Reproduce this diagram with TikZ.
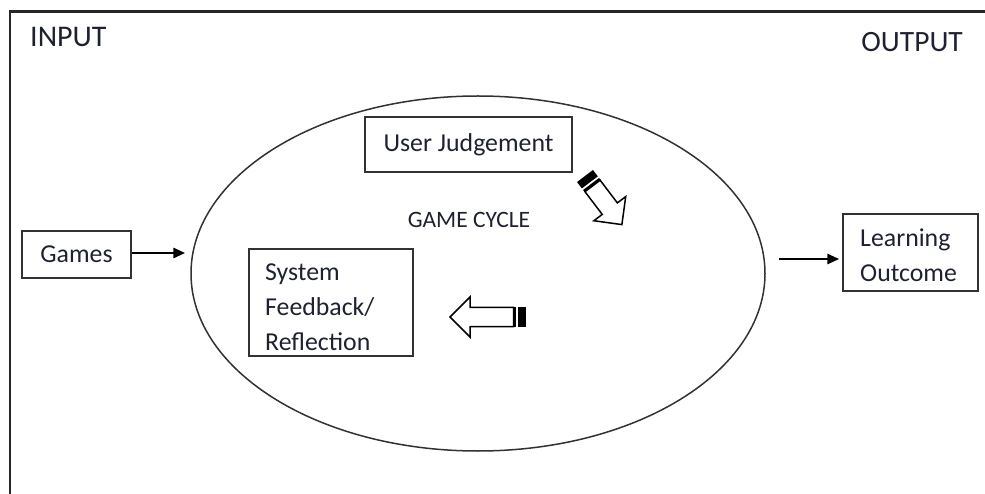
\documentclass[tikz,border=0pt]{standalone}
\usepackage{fontspec}
\setmainfont{Carlito}
\usetikzlibrary{shapes.geometric,arrows.meta,calc}
\definecolor{ink}{RGB}{30,34,48}
\definecolor{edge}{RGB}{50,50,50}
\newcommand\boxfont{\fontsize{25.8}{35}\selectfont}
% striped block arrow: tail point (#1,#2), direction #3, total length #4
\newcommand\stripedarrow[4]{%
  \begin{scope}[shift={(#1,#2)},rotate=#3]
    \fill[black] (0,-10) rectangle (8,10);
    \fill[black] (10,-10) rectangle (12.5,10);
    \draw[line width=1.5pt,line join=miter,fill=white]
      (12.5,-9.5) -- ({#4-20},-9.5) -- ({#4-20},-20) -- (#4,0)
      -- ({#4-20},20) -- ({#4-20},9.5) -- (12.5,9.5) -- cycle;
  \end{scope}}
\begin{document}
\begin{tikzpicture}[x=1pt,y=-1pt,
  box/.style={draw=edge,line width=1.5pt,inner sep=0pt,text=ink},
  lbl/.style={text=ink,inner sep=0pt},
  arr/.style={line width=2.8pt,-{Triangle[length=12pt,width=10pt]}}]
\useasboundingbox (0,0) rectangle (985,494);
\clip (0,0) rectangle (985,494);
% outer frame
\draw[line width=2.6pt,black!85] (10,11.5) rectangle (1100,600);
\node[lbl,anchor=base west,font=\fontsize{30}{34}\selectfont] (input) at (30,47) {INPUT};
\node[lbl,anchor=base east,font=\fontsize{29.5}{34}\selectfont] (output) at (963,52) {OUTPUT};
% game cycle
\node[draw=edge,line width=1.5pt,ellipse,minimum width=574pt,minimum height=355pt,inner sep=0pt] (gc) at (478,273.5) {};
\node[lbl,anchor=base,font=\fontsize{23.5}{28}\selectfont] (gctxt) at (469,228) {GAME CYCLE};
\node[box,minimum width=207pt,minimum height=55pt,font=\boxfont] (uj) at (468.5,144.5) {User Judgement};
\node[box,minimum width=164pt,minimum height=107pt] (sys) at (331,302.5) {};
\node[lbl,anchor=south west,align=left,font=\boxfont] (systxt) at (265,351) {System\\Feedback/\\Reflection};
\stripedarrow{585}{176}{-52.8}{61}
\stripedarrow{526}{317}{180}{76}
% input and output
\node[box,minimum width=109pt,minimum height=47pt,font=\boxfont] (games) at (76.5,254.5) {Games};
\node[box,minimum width=135pt,minimum height=77pt] (out) at (910.5,252.5) {};
\node[lbl,anchor=south west,align=left,font=\boxfont] (outtxt) at (860,282) {Learning\\Outcome};
\coordinate (inrow) at (0,253);
\coordinate (outrow) at (0,259);
\draw[arr,shorten >=5pt] (games.east |- inrow) -- (gc.west |- inrow);
\draw[arr,shorten >=3pt] ($(gc.east |- outrow)+(13,0)$) -- (out.west |- outrow);
\end{tikzpicture}
\end{document}
